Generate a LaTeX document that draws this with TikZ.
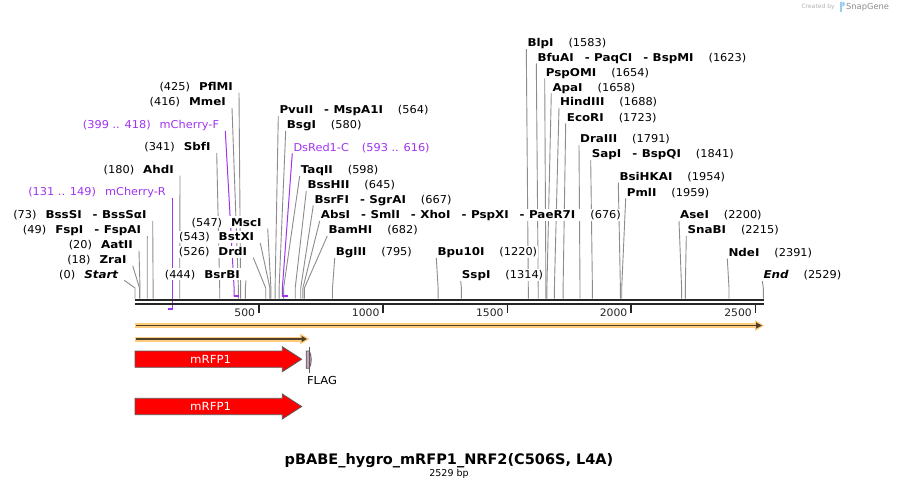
\documentclass[tikz,border=0pt]{standalone}
\usepackage{fontspec}
\setmainfont{DejaVu Sans}
\newfontfamily\lblreg{DejaVu Sans}[FakeStretch=1.05]
\newfontfamily\lblbold{DejaVu Sans}[UprightFont={* Bold}, ItalicFont={* Bold Oblique}, FakeStretch=1.1]
\usetikzlibrary{calc}
\definecolor{primer}{RGB}{160,52,240}
\definecolor{leadgray}{RGB}{140,140,140}
\definecolor{rulerc}{RGB}{38,38,38}
\definecolor{halo}{RGB}{253,205,125}
\definecolor{featdark}{RGB}{80,62,42}
\definecolor{flagc}{RGB}{200,160,190}
\definecolor{outl}{RGB}{90,90,90}
\definecolor{snapblue}{RGB}{150,205,240}
\pgfdeclarelayer{back}
\pgfdeclarelayer{lines}
\pgfsetlayers{back,lines,main}
\newcommand\lblfont{\fontsize{10.8}{12}\lblreg}
\newcommand\eb[1]{{\lblbold #1}}
\newcommand\sepdash{\hspace{11pt}-\hspace{4.5pt}}
\tikzset{
  lbl/.style={font=\lblfont, inner sep=1pt, fill=white, text height=9pt, text depth=1.2pt},
  plbl/.style={lbl, text=primer},
  leader/.style={draw=leadgray, line width=0.9pt},
  pleader/.style={draw=primer, line width=1pt},
  pbracket/.style={draw=primer, line width=2pt},
  rulerline/.style={draw=rulerc, line width=2pt},
  tickline/.style={draw=rulerc, line width=1.6pt},
  ticklbl/.style={font=\fontsize{10.3}{12}\lblreg, text=rulerc, inner sep=0pt, anchor=east},
  cds/.style={fill=red, draw=outl, line width=0.8pt},
  cdslbl/.style={font=\fontsize{11.2}{12}\lblreg, text=white, inner sep=0pt},
}
% left-side label: id, text end x, centre y, number, name, site x
\newcommand\enzL[6]{%
  \node[lbl, anchor=east] (#1) at (#2+1,#3) {#4\hspace{9pt}\eb{#5}};
  \coordinate (#1-k) at (#6,288);
  \coordinate (#1-s) at (#6,298.5);
  \begin{pgfonlayer}{lines}
    \draw[leader] ([xshift=5pt,yshift=-6pt]#1.east) -- (#1-k) -- (#1-s);
  \end{pgfonlayer}}
% right-side label: id, text start x, centre y, name, number, site x
\newcommand\enzR[6]{%
  \node[lbl, anchor=west] (#1) at (#2-1,#3) {\eb{#4}\hspace{15pt}#5};
  \coordinate (#1-k) at (#6,288);
  \coordinate (#1-s) at (#6,298.5);
  \begin{pgfonlayer}{lines}
    \draw[leader] ([yshift=-6pt]#1.west) -- (#1-k) -- (#1-s);
  \end{pgfonlayer}}
\begin{document}
\begin{tikzpicture}[x=1pt,y=-1pt]
\useasboundingbox (0,0) rectangle (899,491);
\begin{pgfonlayer}{back}
  \fill[white] (0,0) rectangle (899,491);
\end{pgfonlayer}

% ---- left-side labels
\enzL{pflmi}{233}{86.5}{(425)}{PflMI}{240.6}
\enzL{mmei}{226}{102}{(416)}{MmeI}{238.4}
\enzL{sbfi}{210.7}{147}{(341)}{SbfI}{219.7}
\enzL{ahdi}{174}{169.5}{(180)}{AhdI}{179.7}
\enzL{bsssi}{146.7}{215}{(73)}{BssSI\sepdash BssSαI}{153.1}
\enzL{fspi}{141.3}{230}{(49)}{FspI\sepdash FspAI}{147.2}
\enzL{aatii}{133}{244.7}{(20)}{AatII}{140}
\enzL{zrai}{126.7}{259.7}{(18)}{ZraI}{139.5}
\enzL{start}{118.3}{274.3}{(0)}{\itshape Start}{135}
\enzL{msci}{261.7}{222.3}{(547)}{MscI}{270.9}
\enzL{bstxi}{254.3}{237}{(543)}{BstXI}{269.9}
\enzL{drdi}{247.3}{251.7}{(526)}{DrdI}{265.7}
\enzL{bsrbi}{240}{274.3}{(444)}{BsrBI}{245.3}

% ---- right-side labels
\enzR{pvuii}{279.3}{110}{PvuII\sepdash MspA1I}{(564)}{275.1}
\enzR{bsgi}{286.7}{125}{BsgI}{(580)}{279.1}
\enzR{taqii}{300.7}{170}{TaqII}{(598)}{283.6}
\enzR{bsshii}{307.3}{185}{BssHII}{(645)}{295.2}
\enzR{bsrfi}{314.3}{199.3}{BsrFI\sepdash SgrAI}{(667)}{300.7}
\enzR{absi}{320.7}{215}{AbsI\sepdash SmlI\sepdash XhoI\sepdash PspXI\sepdash PaeR7I}{(676)}{302.9}
\enzR{bamhi}{328.3}{230}{BamHI}{(682)}{304.4}
\enzR{bglii}{335.7}{252}{BglII}{(795)}{332.5}
\enzR{bpu}{437.3}{252}{Bpu10I}{(1220)}{438.1}
\enzR{sspi}{461.7}{275}{SspI}{(1314)}{461.4}
\enzR{blpi}{527.3}{43}{BlpI}{(1583)}{528.3}
\enzR{bfuai}{537.3}{57.3}{BfuAI\sepdash PaqCI\sepdash BspMI}{(1623)}{538.2}
\enzR{pspomi}{545.7}{72.3}{PspOMI}{(1654)}{545.9}
\enzR{apai}{552.3}{87.3}{ApaI}{(1658)}{546.9}
\enzR{hind}{560}{101.7}{HindIII}{(1688)}{554.4}
\enzR{ecori}{566.7}{117.3}{EcoRI}{(1723)}{563.1}
\enzR{draiii}{580}{139}{DraIII}{(1791)}{580}
\enzR{sapi}{591.7}{154}{SapI\sepdash BspQI}{(1841)}{592.4}
\enzR{bsihkai}{619.3}{176.7}{BsiHKAI}{(1954)}{620.4}
\enzR{pmli}{626.7}{192.3}{PmlI}{(1959)}{621.7}
\enzR{asei}{680}{215}{AseI}{(2200)}{681.6}
\enzR{snabi}{687.3}{230}{SnaBI}{(2215)}{685.3}
\enzR{ndei}{728.3}{252.7}{NdeI}{(2391)}{729}
\enzR{endl}{763.3}{275}{\itshape End}{(2529)}{763.3}

% ---- primers
\node[plbl, anchor=east] (mchf) at (220.3,125) {(399 .. 418)\hspace{9pt}mCherry-F};
\coordinate (mchf-k) at (234.1,288);
\coordinate (mchf-s) at (234.1,296.5);
\node[plbl, anchor=east] (mchr) at (167,192) {(131 .. 149)\hspace{9pt}mCherry-R};
\coordinate (mchr-s) at (172,309.5);
\node[plbl, anchor=west] (dsred) at (292.3,147.3) {DsRed1-C\hspace{13pt}(593 .. 616)};
\coordinate (dsred-k) at (282.3,289);
\coordinate (dsred-s) at (282.3,296.5);
\begin{pgfonlayer}{lines}
  \draw[pleader] ([xshift=5pt,yshift=-6pt]mchf.east) -- (mchf-k) -- (mchf-s);
  \draw[pbracket] (233.6,295.5) -- (238.8,295.5);
  \draw[pleader] ([xshift=5pt,yshift=-6pt]mchr.east) -- (mchr-s);
  \draw[pbracket] (167.5,308.5) -- (172.5,308.5);
  \draw[pleader] ([yshift=-6pt]dsred.west) -- (dsred-k) -- (dsred-s);
  \draw[pbracket] (281.8,295.5) -- (287.5,295.5);
\end{pgfonlayer}

% ---- ruler
\draw[rulerline] (134.7,300.3) -- (763.5,300.3);
\draw[rulerline] (134.7,304.3) -- (763.5,304.3);
\foreach \p/\x in {500/258.8,1000/383.2,1500/507.3,2000/631,2500/755.5}{
  \draw[tickline] (\x,305) -- (\x,312.7);
  \node[ticklbl] (tick\p) at (\x-3.5,312.3) {\p};
}

% ---- orange features
\fill[halo] (135,323) rectangle (757,328);
\fill[halo] (755,320) -- (764,325.5) -- (755,331) -- cycle;
\draw[featdark, line width=1.7pt] (136,325.5) -- (757,325.5);
\fill[featdark] (756,322.3) -- (761.8,325.5) -- (756,328.7) -- cycle;

\fill[halo] (135,336.5) rectangle (302,341.5);
\fill[halo] (300,333.5) -- (309.5,339) -- (300,344.5) -- cycle;
\draw[featdark, line width=1.7pt] (136,339) -- (302,339);
\fill[featdark] (301.5,335.8) -- (306.8,339) -- (301.5,342.2) -- cycle;

% ---- mRFP1 arrows
\draw[cds] (135,351) -- (282.3,351) -- (282.3,346.7) -- (301.7,359.2) -- (282.3,371.7) -- (282.3,367.3) -- (135,367.3) -- cycle;
\node[cdslbl] (rfp1) at (210.7,359.2) {mRFP1};
\draw[cds] (135,398.3) -- (282.3,398.3) -- (282.3,394) -- (301.7,406.5) -- (282.3,419) -- (282.3,414.7) -- (135,414.7) -- cycle;
\node[cdslbl] (rfp2) at (210.7,406.5) {mRFP1};

% ---- FLAG
\draw[fill=flagc, draw=outl, line width=0.8pt] (306.2,351) -- (309.3,351) .. controls (311.9,355) and (311.9,364) .. (309.3,368.3) -- (306.2,368.3) -- cycle;
\draw[draw=outl, line width=0.8pt] (309.3,347.3) -- (309.3,373);
\node[font=\fontsize{11}{12}\lblreg, anchor=west, inner sep=0pt] (flag) at (306.8,380.7) {FLAG};

% ---- title
\node[font=\fontsize{14.5}{16}\selectfont\bfseries, inner sep=0pt] (title) at (449,461) {pBABE\_hygro\_mRFP1\_NRF2(C506S, L4A)};
\node[font=\fontsize{9.5}{11}\selectfont, inner sep=0pt] (bp) at (449,474) {2529 bp};

% ---- credit
\node[font=\fontsize{6}{7}\selectfont, text=black!30, anchor=west, inner sep=0pt] (credit) at (801.5,7) {Created by};
\fill[snapblue] (840.3,1.5) rectangle (842.3,12.3);
\fill[snapblue] (842.3,1.5) arc[start angle=90, end angle=-90, radius=2.6pt];
\node[font=\fontsize{8.3}{9}\selectfont, text=black!45, anchor=west, inner sep=0pt] (snap) at (846,7) {SnapGene};
\end{tikzpicture}
\end{document}
